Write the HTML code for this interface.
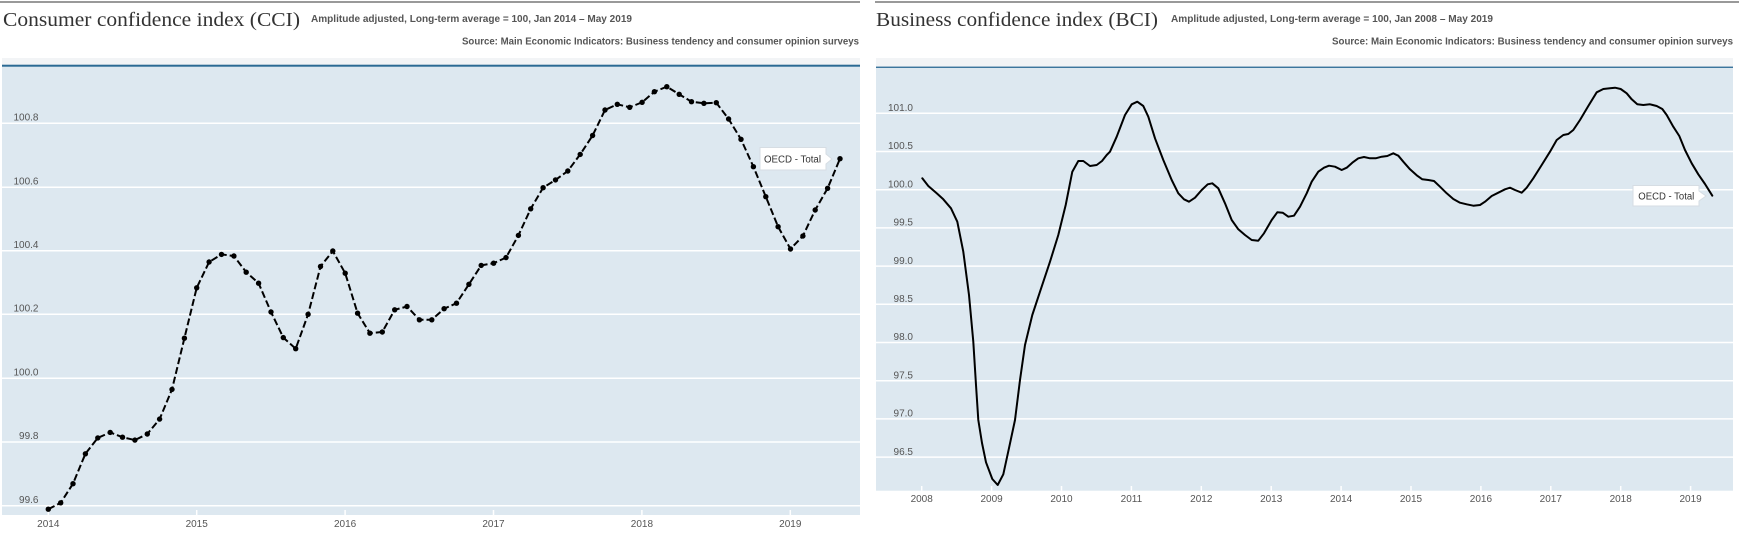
<!DOCTYPE html>
<html><head><meta charset="utf-8">
<style>
html,body{margin:0;padding:0;background:#fff;}
svg{display:block;}
</style></head>
<body>
<svg xmlns="http://www.w3.org/2000/svg" width="1739" height="543" viewBox="0 0 1739 543">
<rect x="0" y="0" width="1739" height="543" fill="#fff"/>

<!-- LEFT PANEL -->
<rect x="0" y="1" width="860" height="2" fill="#999"/>
<text x="3" y="26" font-family="Liberation Serif, serif" font-size="20" fill="#333" textLength="297" lengthAdjust="spacingAndGlyphs">Consumer confidence index (CCI)</text>
<text x="311" y="22" font-family="Liberation Sans, sans-serif" font-size="10" font-weight="bold" fill="#555" textLength="321" lengthAdjust="spacingAndGlyphs">Amplitude adjusted, Long-term average = 100, Jan 2014 – May 2019</text>
<text x="859" y="44.5" text-anchor="end" font-family="Liberation Sans, sans-serif" font-size="10" font-weight="bold" fill="#555" textLength="397" lengthAdjust="spacingAndGlyphs">Source: Main Economic Indicators: Business tendency and consumer opinion surveys</text>

<rect x="2" y="58" width="858" height="7" fill="#f2f4f6"/>
<rect x="2" y="66" width="858" height="449" fill="#dde8f0"/>
<rect x="2" y="64.7" width="858" height="2" fill="#2b6a94"/>
<g stroke="#fff" stroke-width="1.5">
<line x1="2" x2="860" y1="123.3" y2="123.3"/>
<line x1="2" x2="860" y1="187.3" y2="187.3"/>
<line x1="2" x2="860" y1="250.7" y2="250.7"/>
<line x1="2" x2="860" y1="314.3" y2="314.3"/>
<line x1="2" x2="860" y1="378.3" y2="378.3"/>
<line x1="2" x2="860" y1="442" y2="442"/>
<line x1="2" x2="860" y1="505.7" y2="505.7"/>
</g>
<g stroke="#fff" stroke-width="1.5">
<line x1="48.3" x2="48.3" y1="510" y2="515"/>
<line x1="196.7" x2="196.7" y1="510" y2="515"/>
<line x1="345.1" x2="345.1" y1="510" y2="515"/>
<line x1="493.5" x2="493.5" y1="510" y2="515"/>
<line x1="641.9" x2="641.9" y1="510" y2="515"/>
<line x1="790.3" x2="790.3" y1="510" y2="515"/>
</g>
<g font-family="Liberation Sans, sans-serif" font-size="10" fill="#555" text-anchor="end">
<text x="38.5" y="120.5">100.8</text>
<text x="38.5" y="184.5">100.6</text>
<text x="38.5" y="248">100.4</text>
<text x="38.5" y="311.5">100.2</text>
<text x="38.5" y="375.5">100.0</text>
<text x="38.5" y="439">99.8</text>
<text x="38.5" y="503">99.6</text>
</g>
<g font-family="Liberation Sans, sans-serif" font-size="10" fill="#555" text-anchor="middle">
<text x="48.3" y="527">2014</text>
<text x="196.7" y="527">2015</text>
<text x="345.1" y="527">2016</text>
<text x="493.5" y="527">2017</text>
<text x="641.9" y="527">2018</text>
<text x="790.3" y="527">2019</text>
</g>

<polyline fill="none" stroke="#000" stroke-width="2" stroke-dasharray="7 3" stroke-linejoin="round"
points="48.3,509.2 60.7,502.8 73,483.7 85.4,453.8 97.8,437.9 110.2,432.4 122.5,437.2 134.9,440.1 147.3,434 159.6,419.1 172,389.4 184.4,338.2 196.7,287.8 209.1,262 221.5,254.4 233.9,256 246.2,272.2 258.6,283.2 271,312 283.3,337.6 295.7,348.7 308.1,314.3 320.5,266.5 332.8,251 345.2,273.2 357.6,313.2 369.9,333.2 382.3,332 394.7,309.8 407,306.5 419.4,319.8 431.8,319.8 444.1,308.7 456.5,303.2 468.9,284.3 481.2,265.4 493.6,263.2 506,257.6 518.4,235.4 530.7,208.8 543.1,187.7 555.5,179.9 567.8,171 580.2,154.4 592.6,135.5 605,110 617.3,104.3 629.7,107.3 642.1,102.3 654.4,91.7 666.8,86.7 679.2,94.3 691.5,101.7 703.9,103.3 716.3,102.7 728.6,119 741,139.3 753.4,166.7 765.8,196.7 778.1,226.7 790.5,249 802.9,236 815.2,210 827.6,188.3 840,158.7"/>
<g fill="#000">
<circle cx="48.3" cy="509.2" r="2.7"/><circle cx="60.7" cy="502.8" r="2.7"/><circle cx="73" cy="483.7" r="2.7"/><circle cx="85.4" cy="453.8" r="2.7"/><circle cx="97.8" cy="437.9" r="2.7"/><circle cx="110.2" cy="432.4" r="2.7"/><circle cx="122.5" cy="437.2" r="2.7"/><circle cx="134.9" cy="440.1" r="2.7"/><circle cx="147.3" cy="434" r="2.7"/><circle cx="159.6" cy="419.1" r="2.7"/><circle cx="172" cy="389.4" r="2.7"/><circle cx="184.4" cy="338.2" r="2.7"/><circle cx="196.7" cy="287.8" r="2.7"/><circle cx="209.1" cy="262" r="2.7"/><circle cx="221.5" cy="254.4" r="2.7"/><circle cx="233.9" cy="256" r="2.7"/><circle cx="246.2" cy="272.2" r="2.7"/><circle cx="258.6" cy="283.2" r="2.7"/><circle cx="271" cy="312" r="2.7"/><circle cx="283.3" cy="337.6" r="2.7"/><circle cx="295.7" cy="348.7" r="2.7"/><circle cx="308.1" cy="314.3" r="2.7"/><circle cx="320.5" cy="266.5" r="2.7"/><circle cx="332.8" cy="251" r="2.7"/><circle cx="345.2" cy="273.2" r="2.7"/><circle cx="357.6" cy="313.2" r="2.7"/><circle cx="369.9" cy="333.2" r="2.7"/><circle cx="382.3" cy="332" r="2.7"/><circle cx="394.7" cy="309.8" r="2.7"/><circle cx="407" cy="306.5" r="2.7"/><circle cx="419.4" cy="319.8" r="2.7"/><circle cx="431.8" cy="319.8" r="2.7"/><circle cx="444.1" cy="308.7" r="2.7"/><circle cx="456.5" cy="303.2" r="2.7"/><circle cx="468.9" cy="284.3" r="2.7"/><circle cx="481.2" cy="265.4" r="2.7"/><circle cx="493.6" cy="263.2" r="2.7"/><circle cx="506" cy="257.6" r="2.7"/><circle cx="518.4" cy="235.4" r="2.7"/><circle cx="530.7" cy="208.8" r="2.7"/><circle cx="543.1" cy="187.7" r="2.7"/><circle cx="555.5" cy="179.9" r="2.7"/><circle cx="567.8" cy="171" r="2.7"/><circle cx="580.2" cy="154.4" r="2.7"/><circle cx="592.6" cy="135.5" r="2.7"/><circle cx="605" cy="110" r="2.7"/><circle cx="617.3" cy="104.3" r="2.7"/><circle cx="629.7" cy="107.3" r="2.7"/><circle cx="642.1" cy="102.3" r="2.7"/><circle cx="654.4" cy="91.7" r="2.7"/><circle cx="666.8" cy="86.7" r="2.7"/><circle cx="679.2" cy="94.3" r="2.7"/><circle cx="691.5" cy="101.7" r="2.7"/><circle cx="703.9" cy="103.3" r="2.7"/><circle cx="716.3" cy="102.7" r="2.7"/><circle cx="728.6" cy="119" r="2.7"/><circle cx="741" cy="139.3" r="2.7"/><circle cx="753.4" cy="166.7" r="2.7"/><circle cx="765.8" cy="196.7" r="2.7"/><circle cx="778.1" cy="226.7" r="2.7"/><circle cx="790.5" cy="249" r="2.7"/><circle cx="802.9" cy="236" r="2.7"/><circle cx="815.2" cy="210" r="2.7"/><circle cx="827.6" cy="188.3" r="2.7"/><circle cx="840" cy="158.7" r="2.7"/>
</g>
<path d="M760,147.5 H826 V154 L832,159 L826,164 V170 H760 Z" fill="#fff" stroke="#d6dde3" stroke-width="1"/>
<text x="764" y="162.5" font-family="Liberation Sans, sans-serif" font-size="10" fill="#333" textLength="57" lengthAdjust="spacingAndGlyphs">OECD - Total</text>

<!-- RIGHT PANEL -->
<rect x="875" y="1" width="864" height="2" fill="#999"/>
<text x="876" y="26" font-family="Liberation Serif, serif" font-size="20" fill="#333" textLength="282" lengthAdjust="spacingAndGlyphs">Business confidence index (BCI)</text>
<text x="1171" y="22" font-family="Liberation Sans, sans-serif" font-size="10" font-weight="bold" fill="#555" textLength="322" lengthAdjust="spacingAndGlyphs">Amplitude adjusted, Long-term average = 100, Jan 2008 – May 2019</text>
<text x="1733" y="44.5" text-anchor="end" font-family="Liberation Sans, sans-serif" font-size="10" font-weight="bold" fill="#555" textLength="401" lengthAdjust="spacingAndGlyphs">Source: Main Economic Indicators: Business tendency and consumer opinion surveys</text>

<rect x="876" y="58" width="857" height="9" fill="#f2f4f6"/>
<rect x="876" y="67" width="857" height="423.7" fill="#dde8f0"/>
<rect x="876" y="66.6" width="857" height="1.3" fill="#2b6a94"/>
<g stroke="#fff" stroke-width="1.5">
<line x1="876" x2="1733" y1="113.3" y2="113.3"/>
<line x1="876" x2="1733" y1="151.5" y2="151.5"/>
<line x1="876" x2="1733" y1="189.7" y2="189.7"/>
<line x1="876" x2="1733" y1="227.9" y2="227.9"/>
<line x1="876" x2="1733" y1="266.1" y2="266.1"/>
<line x1="876" x2="1733" y1="304.3" y2="304.3"/>
<line x1="876" x2="1733" y1="342.5" y2="342.5"/>
<line x1="876" x2="1733" y1="380.7" y2="380.7"/>
<line x1="876" x2="1733" y1="418.9" y2="418.9"/>
<line x1="876" x2="1733" y1="457.1" y2="457.1"/>
</g>
<g stroke="#fff" stroke-width="1.5">
<line x1="921.7" x2="921.7" y1="486" y2="490.7"/>
<line x1="991.6" x2="991.6" y1="486" y2="490.7"/>
<line x1="1061.5" x2="1061.5" y1="486" y2="490.7"/>
<line x1="1131.4" x2="1131.4" y1="486" y2="490.7"/>
<line x1="1201.3" x2="1201.3" y1="486" y2="490.7"/>
<line x1="1271.2" x2="1271.2" y1="486" y2="490.7"/>
<line x1="1341.1" x2="1341.1" y1="486" y2="490.7"/>
<line x1="1411" x2="1411" y1="486" y2="490.7"/>
<line x1="1480.9" x2="1480.9" y1="486" y2="490.7"/>
<line x1="1550.8" x2="1550.8" y1="486" y2="490.7"/>
<line x1="1620.7" x2="1620.7" y1="486" y2="490.7"/>
<line x1="1690.6" x2="1690.6" y1="486" y2="490.7"/>
</g>
<g font-family="Liberation Sans, sans-serif" font-size="10" fill="#555" text-anchor="end">
<text x="913" y="111">101.0</text>
<text x="913" y="149.2">100.5</text>
<text x="913" y="187.4">100.0</text>
<text x="913" y="225.6">99.5</text>
<text x="913" y="263.8">99.0</text>
<text x="913" y="302">98.5</text>
<text x="913" y="340.2">98.0</text>
<text x="913" y="378.4">97.5</text>
<text x="913" y="416.6">97.0</text>
<text x="913" y="454.8">96.5</text>
</g>
<g font-family="Liberation Sans, sans-serif" font-size="10" fill="#555" text-anchor="middle">
<text x="921.7" y="502">2008</text>
<text x="991.6" y="502">2009</text>
<text x="1061.5" y="502">2010</text>
<text x="1131.4" y="502">2011</text>
<text x="1201.3" y="502">2012</text>
<text x="1271.2" y="502">2013</text>
<text x="1341.1" y="502">2014</text>
<text x="1411" y="502">2015</text>
<text x="1480.9" y="502">2016</text>
<text x="1550.8" y="502">2017</text>
<text x="1620.7" y="502">2018</text>
<text x="1690.6" y="502">2019</text>
</g>

<polyline fill="none" stroke="#000" stroke-width="2" stroke-linejoin="round" stroke-linecap="round"
points="922.3,178.3 928.3,186 936.7,193.3 943.3,199.3 951,208.3 957.3,221.7 963.3,251.7 969,295 973.3,341.7 976,385 978.3,420 982,443 986,462.3 992.3,479 997.7,485 1003.3,474.3 1009.3,446.7 1015,420 1020,380 1025,345 1032.3,315 1040,291.7 1050,261.7 1058.3,235 1065.7,205 1072.3,171.7 1078.3,161 1083.3,161 1090,166 1096.7,165 1102,161 1106.7,155 1110,151.7 1116.7,136.7 1125,115 1131.7,104.3 1137.3,101.7 1143.3,106 1148.3,116.7 1155,138.3 1163.3,160 1171.7,180 1178.3,193.3 1184,199.3 1189,201.7 1195,197.7 1201.7,190 1207.7,184.3 1212.3,183.3 1218.3,188.3 1225,203.3 1231.7,220 1238.3,229.3 1245,235 1251.7,240 1258.3,240.7 1264,233.3 1271.7,220 1277.3,212.3 1282.7,212.7 1288.3,216.7 1294,215.7 1300,206.7 1306.7,193.3 1311.7,181.7 1318.3,171.7 1324,167.7 1329,165.7 1335,166.7 1341.7,170 1346.7,167.7 1352.3,162.7 1358.3,158.3 1364,157 1370,158.3 1375.7,158.3 1381.7,156.7 1387.3,156 1393.3,153.3 1398.3,155.7 1403.3,161.7 1410,169.3 1416.7,175.3 1422.3,179.3 1428.3,180 1434,181 1440,186.7 1446.7,193.3 1453.3,199 1460,202.7 1466.7,204.3 1473.3,205.7 1480,205 1485,201.7 1491.7,196 1498.3,192.7 1505,189.3 1510,187.7 1515,190 1521.7,192.7 1526.7,187.7 1533.3,178.3 1541.7,165 1550,151.7 1556.7,140 1563.3,135 1568.3,134 1573.3,130 1580,120 1588.3,106 1596.7,92.3 1603.3,89 1610,88.3 1615,87.7 1620.7,89 1626.7,93.3 1631.7,99.3 1637.3,104.3 1643.3,105 1650,104.3 1656.7,106 1662.3,109 1666.7,115 1673.3,126.7 1679.3,136 1685,150 1691.7,163.3 1698.3,174.3 1705,184 1712.3,195.7"/>
<path d="M1633,185.5 H1699 V191 L1706,196 L1699,201 V206 H1633 Z" fill="#fff" stroke="#d6dde3" stroke-width="1"/>
<text x="1638.3" y="199.5" font-family="Liberation Sans, sans-serif" font-size="10" fill="#333" textLength="56" lengthAdjust="spacingAndGlyphs">OECD - Total</text>
</svg>
</body></html>
